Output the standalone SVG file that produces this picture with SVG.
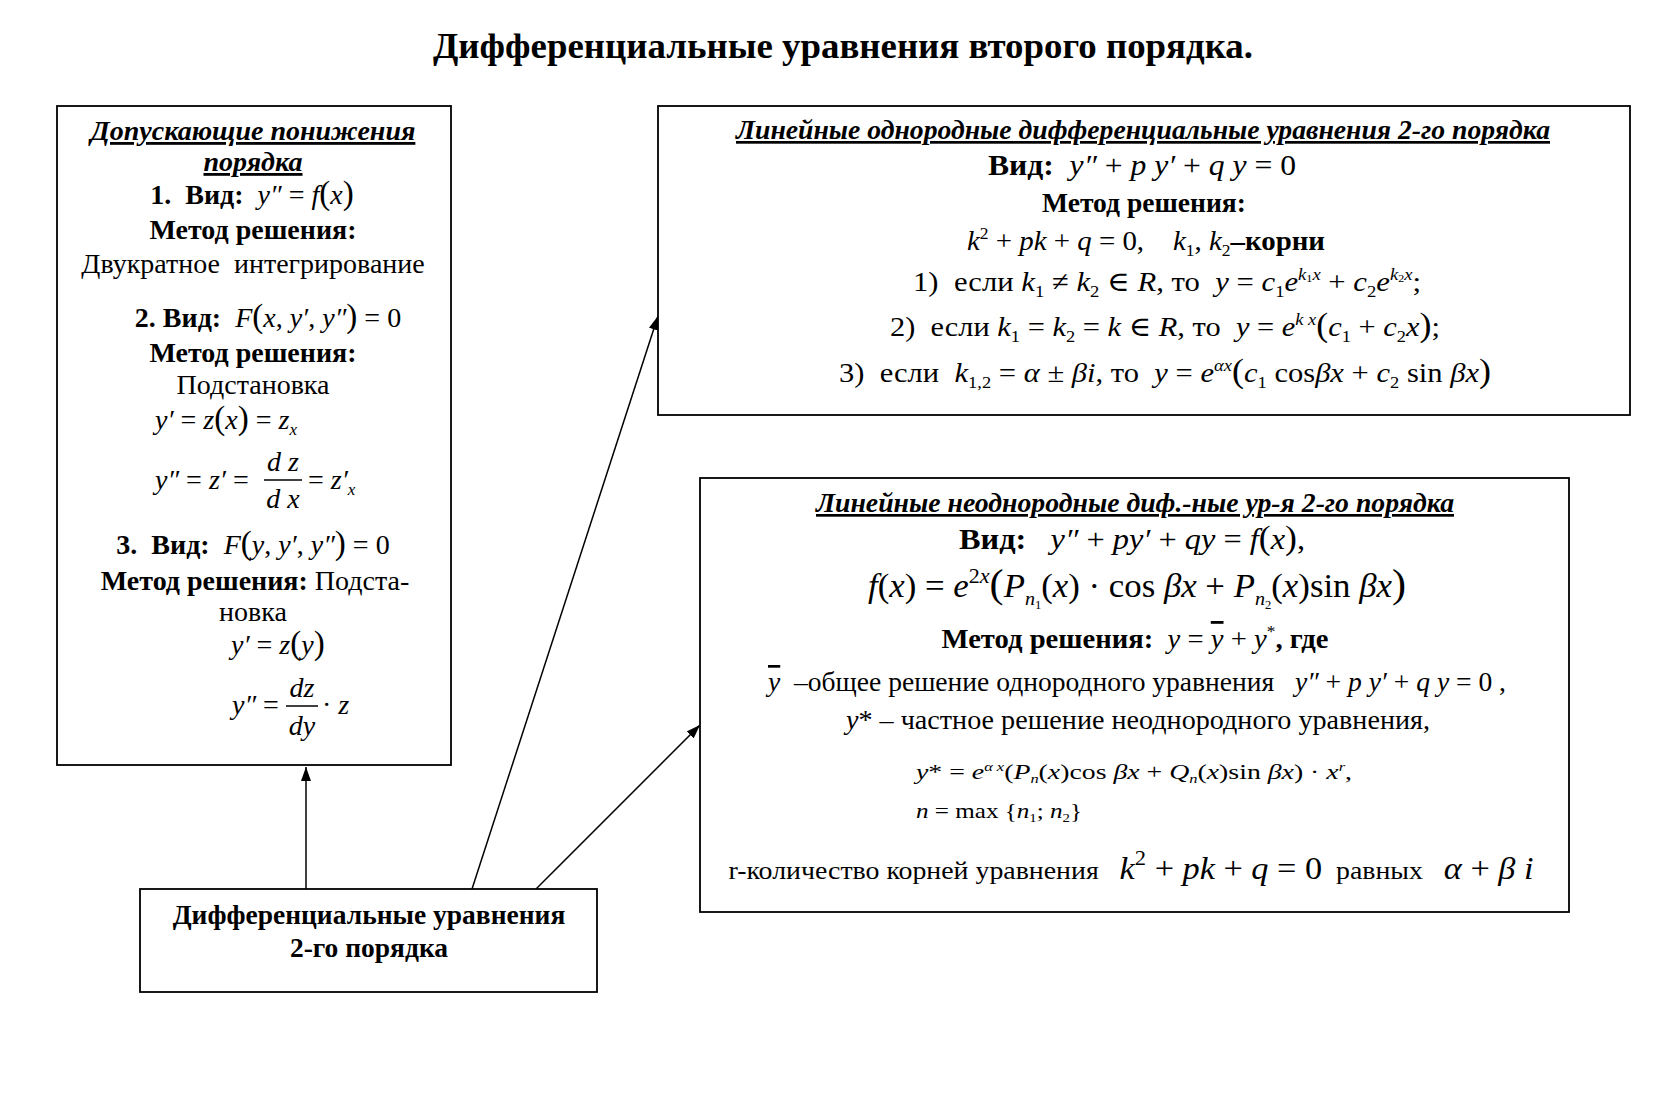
<svg xmlns="http://www.w3.org/2000/svg" width="1680" height="1102" viewBox="0 0 1680 1102">
<style>
.t{font-family:"Liberation Serif","DejaVu Serif",serif;fill:#000}
.m{text-anchor:middle}
.b{font-weight:bold}
.i{font-style:italic}
.u{text-decoration:underline}
.box{fill:#fff;stroke:#000;stroke-width:1.8}
.ln{stroke:#000;stroke-width:1.5;fill:none}
.pr{font-size:33px}
.sp{font-size:17px;baseline-shift:11px}
.sb{font-size:17px;baseline-shift:-6px}
.sp2{font-size:13px;baseline-shift:8px}
.sb2{font-size:13px;baseline-shift:-4px}
.sp3{font-size:21px;baseline-shift:14px}
.sb3{font-size:19px;baseline-shift:-8px}
.ov{text-decoration:overline}
</style>
<defs>
<marker id="ah" markerUnits="userSpaceOnUse" markerWidth="14" markerHeight="10" refX="14" refY="5" orient="auto">
<path d="M0,0 L14,5 L0,10 z" fill="#000"/>
</marker>
</defs>
<rect width="1680" height="1102" fill="#fff"/>
<text x="843" y="58" class="t m b" font-size="35" textLength="820" lengthAdjust="spacingAndGlyphs">Дифференциальные уравнения второго порядка.</text>

<g id="connectors">
<line class="ln" x1="306" y1="889" x2="306" y2="767" marker-end="url(#ah)"/>
<line class="ln" x1="472" y1="889" x2="658" y2="316" marker-end="url(#ah)"/>
<line class="ln" x1="536" y1="889" x2="700" y2="725" marker-end="url(#ah)"/>
</g>

<g id="node-reduce">
<rect class="box" x="57" y="106" width="394" height="659"/>
<text x="253" y="140" class="t m b i u" font-size="28">Допускающие понижения</text>
<text x="253" y="171" class="t m b i u" font-size="28">порядка</text>
<text x="252" y="204" class="t m" font-size="28"><tspan class="b">1.&#160; Вид:</tspan>&#160; <tspan class="i">y″</tspan> = <tspan class="i">f</tspan><tspan class="pr">(</tspan><tspan class="i">x</tspan><tspan class="pr">)</tspan></text>
<text x="253" y="239" class="t m b" font-size="28">Метод решения:</text>
<text x="253" y="273" class="t m" font-size="28">Двукратное&#160; интегрирование</text>
<text x="268" y="327" class="t m" font-size="28"><tspan class="b">2. Вид:</tspan>&#160; <tspan class="i">F</tspan><tspan class="pr">(</tspan><tspan class="i">x</tspan>, <tspan class="i">y′</tspan>, <tspan class="i">y″</tspan><tspan class="pr">)</tspan> = 0</text>
<text x="253" y="362" class="t m b" font-size="28">Метод решения:</text>
<text x="253" y="394" class="t m" font-size="28">Подстановка</text>
<text x="155" y="429" class="t" font-size="28"><tspan class="i">y′</tspan> = <tspan class="i">z</tspan><tspan class="pr">(</tspan><tspan class="i">x</tspan><tspan class="pr">)</tspan> = <tspan class="i">z</tspan><tspan class="sb i">x</tspan></text>
<text x="155" y="489" class="t" font-size="28"><tspan class="i">y″</tspan> = <tspan class="i">z′</tspan> =</text>
<text x="283" y="471" class="t m i" font-size="28">d z</text>
<line class="ln" x1="264" y1="480" x2="302" y2="480"/>
<text x="283" y="508" class="t m i" font-size="28">d x</text>
<text x="308" y="489" class="t" font-size="28">= <tspan class="i">z′</tspan><tspan class="sb i">x</tspan></text>
<text x="253" y="554" class="t m" font-size="28"><tspan class="b">3.&#160; Вид:</tspan>&#160; <tspan class="i">F</tspan><tspan class="pr">(</tspan><tspan class="i">y</tspan>, <tspan class="i">y′</tspan>, <tspan class="i">y″</tspan><tspan class="pr">)</tspan> = 0</text>
<text x="255" y="590" class="t m" font-size="28"><tspan class="b">Метод решения:</tspan> Подста-</text>
<text x="253" y="621" class="t m" font-size="28">новка</text>
<text x="231" y="654" class="t" font-size="28"><tspan class="i">y′</tspan> = <tspan class="i">z</tspan><tspan class="pr">(</tspan><tspan class="i">y</tspan><tspan class="pr">)</tspan></text>
<text x="232" y="714" class="t" font-size="28"><tspan class="i">y″</tspan> =</text>
<text x="302" y="697" class="t m i" font-size="28">dz</text>
<line class="ln" x1="286" y1="706" x2="318" y2="706"/>
<text x="302" y="735" class="t m i" font-size="28">dy</text>
<text x="322" y="714" class="t" font-size="28">· <tspan class="i">z</tspan></text>
</g>

<g id="node-homog">
<rect class="box" x="658" y="106" width="972" height="309"/>
<text x="1143" y="139" class="t m b i u" font-size="27" textLength="814" lengthAdjust="spacingAndGlyphs">Линейные однородные дифференциальные уравнения 2-го порядка</text>
<text x="1142" y="175" class="t m" font-size="30" textLength="308" lengthAdjust="spacingAndGlyphs"><tspan class="b">Вид:</tspan>&#160; <tspan class="i">y″</tspan> + <tspan class="i">p y′</tspan> + <tspan class="i">q y</tspan> = 0</text>
<text x="1144" y="212" class="t m b" font-size="28" textLength="204" lengthAdjust="spacingAndGlyphs">Метод решения:</text>
<text x="1146" y="250" class="t m" font-size="28" textLength="358" lengthAdjust="spacingAndGlyphs"><tspan class="i">k</tspan><tspan class="sp">2</tspan> + <tspan class="i">pk</tspan> + <tspan class="i">q</tspan> = 0,&#160;&#160;&#160; <tspan class="i">k</tspan><tspan class="sb">1</tspan>, <tspan class="i">k</tspan><tspan class="sb">2</tspan><tspan class="b">–корни</tspan></text>
<text x="1167" y="291" class="t m" font-size="28" textLength="508" lengthAdjust="spacingAndGlyphs">1)&#160; если <tspan class="i">k</tspan><tspan class="sb">1</tspan> ≠ <tspan class="i">k</tspan><tspan class="sb">2</tspan> ∈ <tspan class="i">R</tspan>, то&#160; <tspan class="i">y</tspan> = <tspan class="i">c</tspan><tspan class="sb">1</tspan><tspan class="i">e</tspan><tspan class="sp i">k</tspan><tspan style="font-size:11px;baseline-shift:9px">1</tspan><tspan class="sp i">x</tspan> + <tspan class="i">c</tspan><tspan class="sb">2</tspan><tspan class="i">e</tspan><tspan class="sp i">k</tspan><tspan style="font-size:11px;baseline-shift:9px">2</tspan><tspan class="sp i">x</tspan>;</text>
<text x="1165" y="336" class="t m" font-size="28" textLength="550" lengthAdjust="spacingAndGlyphs">2)&#160; если <tspan class="i">k</tspan><tspan class="sb">1</tspan> = <tspan class="i">k</tspan><tspan class="sb">2</tspan> = <tspan class="i">k</tspan> ∈ <tspan class="i">R</tspan>, то&#160; <tspan class="i">y</tspan> = <tspan class="i">e</tspan><tspan class="sp i">k x</tspan><tspan class="pr">(</tspan><tspan class="i">c</tspan><tspan class="sb">1</tspan> + <tspan class="i">c</tspan><tspan class="sb">2</tspan><tspan class="i">x</tspan><tspan class="pr">)</tspan>;</text>
<text x="1165" y="382" class="t m" font-size="28" textLength="652" lengthAdjust="spacingAndGlyphs">3)&#160; если&#160; <tspan class="i">k</tspan><tspan class="sb">1,2</tspan> = <tspan class="i">α</tspan> ± <tspan class="i">βi</tspan>, то&#160; <tspan class="i">y</tspan> = <tspan class="i">e</tspan><tspan class="sp i">αx</tspan><tspan class="pr">(</tspan><tspan class="i">c</tspan><tspan class="sb">1</tspan> cos<tspan class="i">βx</tspan> + <tspan class="i">c</tspan><tspan class="sb">2</tspan> sin <tspan class="i">βx</tspan><tspan class="pr">)</tspan></text>
</g>

<g id="node-inhomog">
<rect class="box" x="700" y="478" width="869" height="434"/>
<text x="1135" y="512" class="t m b i u" font-size="27" textLength="638" lengthAdjust="spacingAndGlyphs">Линейные неоднородные диф.-ные ур-я 2-го порядка</text>
<text x="1132" y="549" class="t m" font-size="30" textLength="346" lengthAdjust="spacingAndGlyphs"><tspan class="b">Вид:</tspan>&#160;&#160; <tspan class="i">y″</tspan> + <tspan class="i">py′</tspan> + <tspan class="i">qy</tspan> = <tspan class="i">f</tspan><tspan class="pr">(</tspan><tspan class="i">x</tspan><tspan class="pr">)</tspan>,</text>
<text x="1137" y="597" class="t m" font-size="33" textLength="538" lengthAdjust="spacingAndGlyphs"><tspan class="i">f</tspan>(<tspan class="i">x</tspan>) = <tspan class="i">e</tspan><tspan class="sp3">2<tspan class="i">x</tspan></tspan><tspan font-size="40">(</tspan><tspan class="i">P</tspan><tspan class="sb3 i">n</tspan><tspan style="font-size:12px;baseline-shift:-12px">1</tspan>(<tspan class="i">x</tspan>) · cos <tspan class="i">βx</tspan> + <tspan class="i">P</tspan><tspan class="sb3 i">n</tspan><tspan style="font-size:12px;baseline-shift:-12px">2</tspan>(<tspan class="i">x</tspan>)sin <tspan class="i">βx</tspan><tspan font-size="40">)</tspan></text>
<text x="1135" y="648" class="t m" font-size="28" textLength="387" lengthAdjust="spacingAndGlyphs"><tspan class="b">Метод решения:</tspan>&#160; <tspan class="i">y</tspan> = <tspan class="i ov">y</tspan> + <tspan class="i">y</tspan><tspan class="sp">*</tspan><tspan class="b">, где</tspan></text>
<text x="1137" y="691" class="t m" font-size="27" textLength="738" lengthAdjust="spacingAndGlyphs"><tspan class="i ov">y</tspan>&#160; –общее решение однородного уравнения&#160;&#160; <tspan class="i">y″</tspan> + <tspan class="i">p y′</tspan> + <tspan class="i">q y</tspan> = 0 ,</text>
<text x="1138" y="729" class="t m" font-size="27" textLength="584" lengthAdjust="spacingAndGlyphs"><tspan class="i">y</tspan>* – частное решение неоднородного уравнения,</text>
<text x="916" y="779" class="t" font-size="22" textLength="436" lengthAdjust="spacingAndGlyphs"><tspan class="i">y</tspan>* = <tspan class="i">e</tspan><tspan class="sp2 i">α x</tspan>(<tspan class="i">P</tspan><tspan class="sb2 i">n</tspan>(<tspan class="i">x</tspan>)cos <tspan class="i">βx</tspan> + <tspan class="i">Q</tspan><tspan class="sb2 i">n</tspan>(<tspan class="i">x</tspan>)sin <tspan class="i">βx</tspan>) · <tspan class="i">x</tspan><tspan class="sp2 i">r</tspan>,</text>
<text x="916" y="818" class="t" font-size="22" textLength="166" lengthAdjust="spacingAndGlyphs"><tspan class="i">n</tspan> = max {<tspan class="i">n</tspan><tspan class="sb2">1</tspan>; <tspan class="i">n</tspan><tspan class="sb2">2</tspan>}</text>
<text x="1131" y="879" class="t m" font-size="26" textLength="805" lengthAdjust="spacingAndGlyphs">r-количество корней уравнения&#160;&#160; <tspan font-size="32"><tspan class="i">k</tspan><tspan class="sp3">2</tspan> + <tspan class="i">pk</tspan> + <tspan class="i">q</tspan> = 0</tspan>&#160; равных&#160;&#160; <tspan font-size="32"><tspan class="i">α</tspan> + <tspan class="i">β i</tspan></tspan></text>
</g>

<g id="node-root">
<rect class="box" x="140" y="889" width="457" height="103"/>
<text x="369" y="924" class="t m b" font-size="27.5">Дифференциальные уравнения</text>
<text x="369" y="957" class="t m b" font-size="27.5">2-го порядка</text>
</g>
</svg>
